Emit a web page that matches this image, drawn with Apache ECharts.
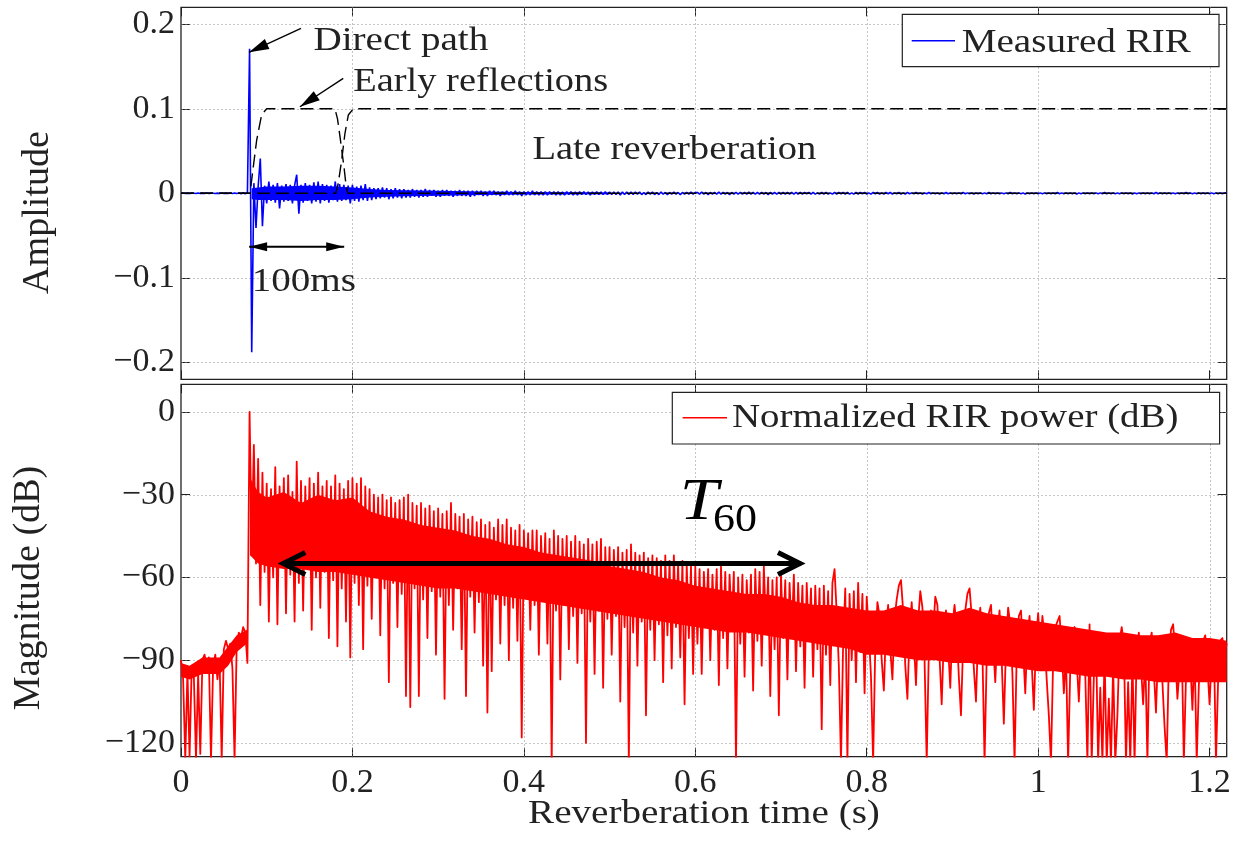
<!DOCTYPE html>
<html><head><meta charset="utf-8">
<script src="https://cdn.jsdelivr.net/npm/echarts@6/dist/echarts.min.js"></script>
<style>html,body{margin:0;padding:0;background:#fff}#c{width:1235px;height:843px}</style>
</head><body><div id="c"></div>
<script>
// ---------------- data ----------------
const sampleStep = 0.0025; // seconds between samples
const timeTicks = [0, 0.2, 0.4, 0.6, 0.8, 1, 1.2];
const ampTicks = [-0.2, -0.1, 0, 0.1, 0.2];
const dbTicks = [-120, -90, -60, -30, 0];

// measured RIR amplitude, in units of 0.001
const rirAmplitudeMilli = [
  0,0.3,-0.2,0.2,-0.3,0.2,0,-0.2,0.3,-0.2, 0.2,-0.3,0.3,-0.2,0.2,0,-0.3,0.2,-0.2,0.3,
  -0.2,0.2,-0.3,0.3,-0.2,0.4,-0.3,0.3,-0.4,0.5,-0.4,0.6,
  171,-188,12,-41,8,41,-39,9,-12,14,-9,10,-11,12,-18,9,-10,11,-9,10,-12,9,22,-24,10,-11,12,-9,10,-12,
  13,-10,14,-12,11,-9,10,-11,9,-8,14,-10,11,-9,10,-8,9,-12,10,
  -9,8,-10,9,-8,11,-9,7,-8,6, -7,6,-6,7,-5,6,-7,5,-6,6, -5,5,-6,5,-5,4,-5,5,-4,4,
  -5,4,-4,5,-4,4,-3,4,-4,3, -4,4,-3,4,-3,3,-4,3,-3,4, -3,3,-3,3,-4,3,-3,3,-2,3,
  -3,2,-3,3,-2,3,-2,2,-3,2, -2,3,-2,2,-2,3,-2,2,-3,2, -2,2,-2,3,-2,2,-2,2,-2,2,
  -2,2,-1.5,2,-2,2,-2,1.5,-2,2, -1.5,2,-2,1.5,-2,2,-1.5,2,-1.5,1.5, -2,1.5,-1.5,2,-1.5,1.5,-1.5,2,-1.5,1.5,
  -1.5,1.5,-1.5,1.5,-2,1.5,-1.5,1.5,-1.5,1.5, -1.5,1.5,-1,1.5,-1.5,1,-1.5,1.5,-1,1.5,
  -1.5,1,-1.5,1.5,-1,1,-1.5,1,-1,1.5, -1,1,-1.5,1,-1,1,-1,1.5,-1,1,
  1,-1,1.5,-1,1,-1.5,1,-1,1,-1,1.5,-1,1,-1,1,-1.5,1,-1,1,-1,
  1,-1,1,-1,1.5,-1,1,-1,1,-1,1,-1,1,-1.5,1,-1,1,-1,1,-1,
  1,-1,1,-1,1,-1,1,-1,1,-1,1,-0.5,1,-1,1,-1,0.5,-1,1,-1,
  1,-1,0.5,-1,1,-1,1,-0.5,1,-1,1,-1,0.5,-1,1,-1,1,-0.5,1,-1,
  0.5,-1,1,-0.5,1,-1,0.5,-1,1,-0.5,1,-1,0.5,-0.5,1,-1,0.5,-1,1,-0.5,
  0.5,-0.5,1,-0.5,0.5,-1,0.5,-0.5,1,-0.5,0.5,-0.5,0.5,-1,0.5,-0.5,1,-0.5,0.5,-0.5,
  0.5,-0.5,0.5,-0.5,1,-0.5,0.5,-0.5,0.5,-1,0.5,-0.5,0.5,-0.5,0.5,-0.5,1,-0.5,0.5,-0.5,
  0.5,-0.5,0.5,-0.5,0.5,-0.5,1,-0.5,0.5,-0.5,0.5,-0.5,0.5,-1,0.5,-0.5,0.5,-0.5,0.5,-0.5,
  0.5,-0.5,0.5,-0.5,0.5,-0.5,0.5,-0.5,1,-0.5,0.5,-0.5,0.5,-0.5,0.5,-0.5,0.5,-1,0.5,-0.5,
  0.5,-0.5,0.5,-0.5,0.5,-0.5,0.5,-0.5,0.5,-0.5,1,-0.5,0.5,-0.5,0.5,-0.5,0.5,-0.5,0.5,-0.5,
  0.5,-0.5,0.5,-1,0.5,-0.5,0.5,-0.5,0.5,-0.5,0.5,-0.5,0.5,-0.5,1,-0.5,0.5,-0.5,0.5,-0.5,
  0.5,-0.5,0.5,-0.5,0.5,-0.5,0.5,-0.5,1,-0.5,0.5,-0.5,0.5,-0.5,0.5,-0.5,0.5,-0.5,0.5,-0.5,
  0.5,-0.5,0.5,-0.5,0.5,-0.5,0.5,0
];
// dense core of the measured RIR trace (where the plotted trace is solid blue)
const ampCoreTime = [0.0825,0.09,0.10,0.12,0.14,0.16,0.18,0.20,0.22,0.24,0.26,0.30,0.35,0.40,0.50];
const ampCoreTop = [0.006,0.007,0.008,0.008,0.009,0.009,0.008,0.007,0.005,0.004,0.0035,0.003,0.002,0.0015,0.001];
const ampCoreBottom = [-0.007,-0.008,-0.008,-0.008,-0.009,-0.008,-0.008,-0.007,-0.005,-0.004,-0.0035,-0.003,-0.002,-0.0015,-0.001];

// normalized RIR power in dB
const rirPowerDb = [
  -90,-97,-126,-94,-125,-92,-96,-126,-95,-124,
  -90,-88,-93,-89,-126,-92,-88,-97,-90,-126,
  -86,-83,-86,-84,-93,-126,-84,-80,-82,-78,
  -80,-91,
  0,-48,-12,-55,-17,-70,-22,-58,-26,-76,
  -28,-60,-20,-77,-27,-56,-24,-73,-23,-59,
  -29,-76,-18,-62,-25,-72,-27,-57,-24,-79,
  -26,-60,-22,-71,-27,-58,-25,-82,-27,-61,
  -23,-85,-26,-64,-28,-76,-25,-89,-24,
  -62,-26,-70,-24,-86,-27,-63,-28,-75,-30,
  -60,-31,-81,-30,-64,-32,-98,-31,-62,-33,
  -78,-32,-66,-31,-103,-30,-107,-33,-64,-34,
  -103,-33,-68,-35,-82,-34,-65,-36,-88,-35,
  -67,-37,-104,-36,-70,-33,-79,-37,-64,-38,
  -86,-37,-103,-39,-67,-38,-80,-40,-69,-39,
  -92,-41,-109,-40,-94,-42,-68,-39,-84,-41,
  -70,-39,-90,-42,-71,-43,-83,-41,-118,-43,
  -66,-44,-79,-43,-70,-43,-88,-45,-68,-44,
  -84,-46,-127,-43,-72,-45,-97,-46,-70,-45,
  -86,-47,-74,-45,-91,-47,-73,-48,-120,-46,
  -76,-48,-95,-47,-72,-46,-100,-49,-75,-49,
  -88,-50,-74,-49,-105,-51,-78,-50,-127,-48,
  -80,-51,-92,-52,-76,-51,-110,-53,-79,-52,
  -90,-53,-77,-54,-98,-52,-81,-54,-93,-52,
  -78,-55,-89,-54,-106,-55,-82,-56,-95,-56,
  -84,-57,-95,-58,-76,-57,-90,-59,-79,-57,
  -99,-56,-82,-58,-93,-59,-77,-58,-127,-60,
  -84,-59,-96,-61,-80,-59,-101,-57,-83,-58,
  -92,-56,-79,-60,-103,-61,-86,-60,-110,-59,
  -82,-61,-97,-62,-81,-59,-94,-62,-85,-63,
  -100,-62,-83,-64,-96,-63,-86,-64,-115,-63,
  -88,-65,-99,-62,-57,-73,-92,-127,-84,-64,
  -127,-66,-90,-65,-98,-62,-87,-66,-102,-67,
  -80,-96,-127,-85,-69,-74,-90,-101,-78,-70,
  -86,-97,-75,-68,-63,-61,-72,-92,-104,-80,
  -69,-83,-99,-76,-65,-71,-90,-127,-86,-72,
  -80,-67,-70,-89,-106,-82,-72,-85,-100,-77,
  -70,-79,-96,-110,-84,-72,-66,-64,-74,-93,
  -105,-80,-71,-87,-127,-89,-73,-70,-84,-98,
  -79,-72,-90,-113,-85,-71,-77,-95,-127,-88,
  -74,-72,-86,-102,-81,-74,-91,-108,-83,-73,
  -86,-74,-82,-97,-110,-127,-90,-78,-76,-74,
  -85,-102,-88,-127,-93,-80,-78,-90,-105,-86,
  -79,-95,-127,-77,-127,-96,-82,-127,-100,-127,
  -88,-127,-104,-127,-92,-127,-110,-83,-78,-84,
  -127,-98,-127,-90,-127,-86,-80,-92,-106,-88,
  -127,-84,-80,-94,-109,-86,-82,-98,-114,-127,
  -90,-79,-77,-88,-104,-93,-84,-127,-96,-83,
  -90,-108,-86,-127,-99,-85,-83,-81,-92,-106,
  -89,-84,-127,-97,-83,-82,-88,-84
];
// dense core of the power trace (where the plotted trace is solid red)
const dbPreCoreTime = [0,0.01,0.025,0.045,0.055,0.065,0.077];
const dbPreCoreTop = [-91,-92,-89,-89,-85,-81,-79];
const dbPreCoreBottom = [-96,-97,-95,-95,-92,-87,-84];
const dbCoreTime = [0.0805,0.09,0.10,0.12,0.14,0.16,0.18,0.20,0.22,0.24,0.26,0.28,0.30,0.32,0.34,0.36,0.38,0.40,
  0.42,0.44,0.46,0.48,0.50,0.52,0.54,0.56,0.58,0.60,0.62,0.64,0.66,0.68,0.70,0.72,0.74,0.76,0.78,0.80,
  0.82,0.84,0.86,0.88,0.90,0.92,0.94,0.96,0.98,1.00,1.02,1.04,1.06,1.08,1.10,1.12,1.14,1.16,1.18,1.20,1.22];
const dbCoreTop = [-24,-29,-31,-29,-33,-30,-32,-31,-36,-38,-39,-41,-42,-43,-45,-46,-48,-49,
  -51,-52,-53,-54,-56,-57,-58,-60,-61,-63,-64,-65,-66,-66,-67,-69,-70,-70,-71,-72,
  -72,-70,-72,-72,-73,-71,-73,-74,-75,-76,-77,-78,-79,-80,-80,-81,-81,-80,-82,-82,-83];
const dbCoreBottom = [-52,-55,-56,-57,-57,-58,-58,-59,-60,-61,-62,-63,-64,-64,-65,-66,-67,-68,
  -69,-70,-71,-72,-73,-74,-75,-76,-77,-78,-79,-80,-80,-81,-82,-83,-84,-85,-86,-88,
  -88,-89,-90,-90,-91,-91,-92,-92,-93,-94,-94,-95,-96,-96,-97,-97,-98,-98,-98,-98,-98];

// early / late reflection windows (time s, amplitude)
const earlyWindow = [[0,0],[0.0805,0],[0.0843,0.031],[0.0883,0.063],[0.0941,0.093],[0.1,0.1],[0.1796,0.1],[0.1826,0.088],[0.1855,0.067],[0.1901,0.0315],[0.1925,0.01],[0.1945,0],[1.22,0]];
const lateWindow = [[0,0],[0.1805,0],[0.1835,0.012],[0.1874,0.039],[0.1913,0.071],[0.1952,0.0926],[0.201,0.1],[1.22,0.1]];

// ---------------- chart ----------------
const SERIF = 'Liberation Serif';
const INK = '#222';
const times = rirPowerDb.map((_, i) => +(i * sampleStep).toFixed(4));
const fmt = v => (v < 0 ? '\u2212' : '') + Math.abs(v);

function xAx(gridIndex, pos, labels) {
  return {
    type: 'value', gridIndex, position: pos, min: 0, max: 1.22,
    axisLine: { show: false, onZero: false },
    axisTick: { show: true, inside: true, length: 9, customValues: timeTicks, lineStyle: { color: INK, width: 1 } },
    axisLabel: { show: labels, customValues: timeTicks, formatter: fmt, fontFamily: SERIF, fontSize: 34, color: INK, margin: 26, verticalAlign: 'middle' },
    splitLine: { show: false }
  };
}
function yAx(gridIndex, pos, min, max, ticks) {
  return {
    type: 'value', gridIndex, position: pos, min, max,
    axisLine: { show: false, onZero: false },
    axisTick: { show: true, inside: true, length: 9, customValues: ticks, lineStyle: { color: INK, width: 1 } },
    axisLabel: { show: pos === 'left', customValues: ticks, formatter: fmt, fontFamily: SERIF, fontSize: 34, color: INK, margin: 6 },
    splitLine: { show: false }
  };
}
// solid core of a dense trace, drawn as one polygon through the axis scales
function coreBand(xi, yi, ts, tops, bots, color) {
  return {
    type: 'custom', xAxisIndex: xi, yAxisIndex: yi, z: 2, silent: true,
    data: ts.map((t, i) => [t, tops[i], bots[i]]),
    encode: { x: 0, y: [1, 2] },
    renderItem: (params, api) => {
      if (params.dataIndex !== 0) return null;
      const pts = [];
      for (let i = 0; i < ts.length; i++) pts.push(api.coord([ts[i], tops[i]]));
      for (let i = ts.length - 1; i >= 0; i--) pts.push(api.coord([ts[i], bots[i]]));
      return { type: 'polygon', shape: { points: pts }, style: { fill: color } };
    }
  };
}

const option = {
  animation: false,
  backgroundColor: '#fff',
  grid: [
    { left: 181, top: 7.3, width: 1045.7, height: 372, show: true, borderColor: INK, borderWidth: 1.3 },
    { left: 181, top: 384.3, width: 1045.7, height: 372.4, show: true, borderColor: INK, borderWidth: 1.3 }
  ],
  xAxis: [xAx(0, 'bottom', false), xAx(0, 'top', false), xAx(1, 'bottom', true), xAx(1, 'top', false)],
  yAxis: [yAx(0, 'left', -0.22, 0.22, ampTicks), yAx(0, 'right', -0.22, 0.22, ampTicks),
          yAx(1, 'left', -125, 10, dbTicks), yAx(1, 'right', -125, 10, dbTicks)],
  series: [
    coreBand(0, 0, ampCoreTime, ampCoreTop, ampCoreBottom, '#0000ff'),
    { type: 'line', name: 'Measured RIR', xAxisIndex: 0, yAxisIndex: 0, symbol: 'none', sampling: null,
      data: rirAmplitudeMilli.map((v, i) => [times[i], v / 1000]),
      lineStyle: { color: '#0000ff', width: 1.6 }, itemStyle: { color: '#0000ff' }, z: 3 },
    { type: 'line', name: 'Early window', xAxisIndex: 0, yAxisIndex: 0, symbol: 'none', data: earlyWindow,
      lineStyle: { color: '#000', width: 1.4, type: [13, 6] }, z: 4 },
    { type: 'line', name: 'Late window', xAxisIndex: 0, yAxisIndex: 0, symbol: 'none', data: lateWindow,
      lineStyle: { color: '#000', width: 1.4, type: [13, 6] }, z: 4 },
    coreBand(2, 2, dbPreCoreTime, dbPreCoreTop, dbPreCoreBottom, '#ff0000'),
    coreBand(2, 2, dbCoreTime, dbCoreTop, dbCoreBottom, '#ff0000'),
    { type: 'line', name: 'Normalized RIR power (dB)', xAxisIndex: 2, yAxisIndex: 2, symbol: 'none', sampling: null,
      data: rirPowerDb.map((v, i) => [times[i], v]),
      lineStyle: { color: '#ff0000', width: 1.8, join: 'round' }, itemStyle: { color: '#ff0000' }, z: 3 }
  ]
};

const chart = echarts.init(document.getElementById('c'), null, { renderer: 'canvas' });
chart.setOption(option);

// ---------------- grid lines and annotations (placed in data coordinates) ----------------
const P0 = (t, v) => chart.convertToPixel({ xAxisIndex: 0, yAxisIndex: 0 }, [t, v]);
const P1 = (t, v) => chart.convertToPixel({ xAxisIndex: 2, yAxisIndex: 2 }, [t, v]);

function txt(p, text, size, sx, extra) {
  const el = { type: 'text', x: p[0], y: p[1], scaleX: sx, z: 100,
    style: { text, fontFamily: SERIF, fontSize: size, fill: INK, align: 'left', verticalAlign: 'middle' } };
  if (extra) Object.assign(el.style, extra);
  return el;
}
function seg(a, b, w) {
  return { type: 'line', z: 100, shape: { x1: a[0], y1: a[1], x2: b[0], y2: b[1] }, style: { stroke: '#000', lineWidth: w } };
}
function headPts(tip, from, len, hw) {
  const dx = tip[0] - from[0], dy = tip[1] - from[1], L = Math.hypot(dx, dy);
  const ux = dx / L, uy = dy / L, bx = tip[0] - ux * len, by = tip[1] - uy * len;
  return [[bx - uy * hw, by + ux * hw], tip, [bx + uy * hw, by - ux * hw]];
}
function head(tip, from, len, hw) {
  return { type: 'polygon', z: 100, shape: { points: headPts(tip, from, len, hw) }, style: { fill: '#000' } };
}
function chevron(tip, from, len, hw) {
  return { type: 'polyline', z: 101, shape: { points: headPts(tip, from, len, hw) },
    style: { stroke: '#000', lineWidth: 5, fill: null, lineJoin: 'miter', lineCap: 'butt' } };
}
function gridLine(a, b) {
  return { type: 'line', z: 1, silent: true,
    shape: { x1: Math.round(a[0]) + 0.5, y1: Math.round(a[1]) + 0.5, x2: Math.round(b[0]) + 0.5, y2: Math.round(b[1]) + 0.5 },
    style: { stroke: '#8a8a8a', lineWidth: 1, lineDash: [1, 3] } };
}

const g = [];
// dotted grids
timeTicks.forEach(t => {
  if (t > 0) {
    g.push(gridLine(P0(t, 0.22), P0(t, -0.22)));
    g.push(gridLine(P1(t, 10), P1(t, -125)));
  }
});
ampTicks.forEach(v => g.push(gridLine(P0(0, v), P0(1.22, v))));
dbTicks.forEach(v => g.push(gridLine(P1(0, v), P1(1.22, v))));

const dpFrom = P0(0.140, 0.1951), dpTip = P0(0.0793, 0.1668);
const erFrom = P0(0.1893, 0.136), erTip = P0(0.1388, 0.1024);
const msA = P0(0.0795, -0.0632), msB = P0(0.1904, -0.0632);
const tA = P1(0.1135, -55), tB = P1(0.728, -55);

// top-plot notes
g.push(seg(dpFrom, dpTip, 1.4), head(dpTip, dpFrom, 20, 5.5));
g.push(seg(erFrom, erTip, 1.4), head(erTip, erFrom, 20, 5.5));
g.push(seg(msA, msB, 2), head(msA, msB, 18, 4.5), head(msB, msA, 18, 4.5));
g.push(txt(P0(0.1545, 0.1799), 'Direct path', 34, 1.15));
g.push(txt(P0(0.201, 0.132), 'Early reflections', 34, 1.13));
g.push(txt(P0(0.410, 0.0512), 'Late reverberation', 34, 1.135));
g.push(txt(P0(0.0825, -0.1046), '100ms', 34, 1.15));
// T60 double arrow (chevron tips moved in to allow for the miter)
g.push(seg([tA[0] + 4, tA[1]], [tB[0] - 4, tB[1]], 5));
g.push(chevron([tA[0] + 5, tA[1]], tB, 22, 11), chevron([tB[0] - 5, tB[1]], tA, 22, 11));
g.push(txt(P1(0.582, -33.0), 'T', 60, 1.15, { fontStyle: 'italic', fill: '#000' }));
g.push(txt(P1(0.6206, -39.2), '60', 40, 1.1, { fill: '#000' }));
// legends
g.push({ type: 'rect', z: 100, shape: { x: 902.3, y: 14.3, width: 316.7, height: 52.4 }, style: { fill: '#fff', stroke: INK, lineWidth: 1.2 } });
g.push({ type: 'line', z: 101, shape: { x1: 911.7, y1: 40.7, x2: 955, y2: 40.7 }, style: { stroke: '#0000ff', lineWidth: 1.4 } });
g.push(txt([961.7, 43.3], 'Measured RIR', 34, 1.15));
g.push({ type: 'rect', z: 100, shape: { x: 672.3, y: 392.3, width: 547.3, height: 51.7 }, style: { fill: '#fff', stroke: INK, lineWidth: 1.2 } });
g.push({ type: 'line', z: 101, shape: { x1: 682.6, y1: 417.7, x2: 727, y2: 417.7 }, style: { stroke: '#ff0000', lineWidth: 1.5 } });
g.push(txt([732, 418.3], 'Normalized RIR power (dB)', 34, 1.145));
// axis titles
g.push({ type: 'text', x: 38.5, y: 212.5, rotation: Math.PI / 2, scaleX: 1.03, z: 100,
  style: { text: 'Amplitude', fontFamily: SERIF, fontSize: 37, fill: INK, align: 'center', verticalAlign: 'middle' } });
g.push({ type: 'text', x: 29.2, y: 588, rotation: Math.PI / 2, scaleX: 1.03, z: 100,
  style: { text: 'Magnitude (dB)', fontFamily: SERIF, fontSize: 37, fill: INK, align: 'center', verticalAlign: 'middle' } });
g.push({ type: 'text', x: 704, y: 814, scaleX: 1.15, z: 100,
  style: { text: 'Reverberation time (s)', fontFamily: SERIF, fontSize: 34, fill: INK, align: 'center', verticalAlign: 'middle' } });

chart.setOption({ graphic: { elements: g } });
</script>
</body></html>
